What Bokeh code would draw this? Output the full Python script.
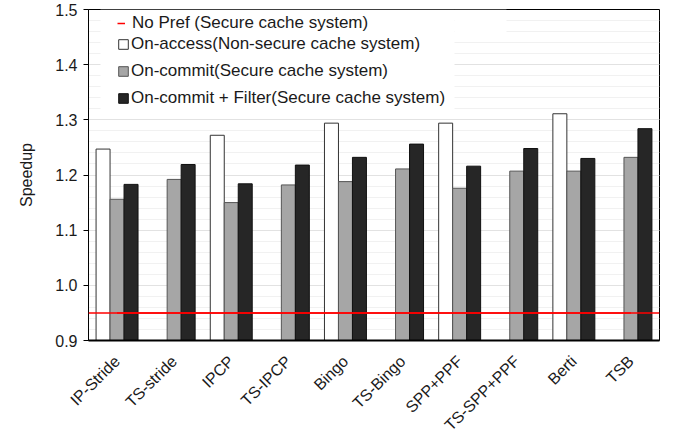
import math
from bokeh.plotting import figure
from bokeh.models import (ColumnDataSource, FactorRange, Range1d, Span, Legend, LegendItem,
                          SingleIntervalTicker, NumeralTickFormatter, BoxAnnotation)
from bokeh.transform import dodge
from bokeh.embed import file_html
from bokeh.resources import INLINE

nan = float("nan")
categories = ["IP-Stride", "TS-stride", "IPCP", "TS-IPCP", "Bingo", "TS-Bingo",
              "SPP+PPF", "TS-SPP+PPF", "Berti", "TSB"]
on_access = [1.247, nan, 1.272, nan, 1.294, nan, 1.294, nan, 1.311, nan]
on_commit = [1.156, 1.192, 1.150, 1.182, 1.188, 1.211, 1.176, 1.207, 1.207, 1.232]
on_commit_filter = [1.183, 1.219, 1.184, 1.218, 1.232, 1.256, 1.216, 1.248, 1.230, 1.284]
no_pref = 0.95
labels = ["No Pref (Secure cache system)",
          "On-access(Non-secure cache system)",
          "On-commit(Secure cache system)",
          "On-commit + Filter(Secure cache system)"]
y_min, y_max = 0.9, 1.5

FONT = "Liberation Sans"
TXT = "#1a1a1a"

src = ColumnDataSource(dict(cat=categories, a=on_access, c=on_commit, f=on_commit_filter))

p = figure(frame_width=571, frame_height=331, x_range=FactorRange(*categories),
           y_range=Range1d(y_min, y_max), output_backend="svg", toolbar_location=None,
           min_border_left=88, min_border_right=8, min_border_top=9, min_border_bottom=0)

# white cover behind legend (hides gridlines)
p.add_layout(BoxAnnotation(left=0.21, right=6.41, bottom=1.313, top=1.5,
                           fill_color="white", fill_alpha=1, line_color=None, level="underlay"))
p.add_layout(BoxAnnotation(left=6.41, right=7.32, bottom=1.452, top=1.5,
                           fill_color="white", fill_alpha=1, line_color=None, level="underlay"))

w = 0.245
ra = p.vbar(x=dodge("cat", -w, range=p.x_range), top="a", width=w, source=src,
            fill_color="white", line_color="#333333", line_width=1)
rc = p.vbar(x=dodge("cat", 0, range=p.x_range), top="c", width=w, source=src,
            fill_color="#a6a6a6", line_color="#555555", line_width=1)
rf = p.vbar(x=dodge("cat", w, range=p.x_range), top="f", width=w, source=src,
            fill_color="#262626", line_color="#111111", line_width=1)

rl = p.line(x=[categories[0], categories[-1]], y=[no_pref, no_pref],
            line_color="red", line_width=1.5)
p.add_layout(Span(location=no_pref, dimension="width", line_color="red", line_width=1.5))

common = dict(padding=0, margin=0, label_height=20, label_text_font=FONT,
              label_text_font_size="17px", label_text_color=TXT,
              background_fill_alpha=0, border_line_color=None)
leg1 = Legend(items=[LegendItem(label=labels[0], renderers=[rl])],
              location=(29, 307), spacing=0, glyph_width=8, glyph_height=10,
              label_standoff=7, **common)
leg2 = Legend(items=[LegendItem(label=labels[1], renderers=[ra]),
                     LegendItem(label=labels[2], renderers=[rc]),
                     LegendItem(label=labels[3], renderers=[rf])],
              location=(29, 232), spacing=7, glyph_width=12, glyph_height=12,
              label_standoff=2, **common)
p.add_layout(leg1)
p.add_layout(leg2)

# axes
p.yaxis.ticker = SingleIntervalTicker(interval=0.1, num_minor_ticks=5)
p.yaxis.formatter = NumeralTickFormatter(format="0.0")
p.yaxis.axis_label = "Speedup"
p.yaxis.axis_label_text_font = FONT
p.yaxis.axis_label_text_font_style = "normal"
p.yaxis.axis_label_text_font_size = "16px"
p.yaxis.axis_label_text_color = TXT
p.yaxis.axis_label_standoff = 17
p.yaxis.major_label_text_font = FONT
p.yaxis.major_label_text_font_size = "16px"
p.yaxis.major_label_text_color = TXT
p.yaxis.major_label_standoff = 6
p.yaxis.major_tick_out = 5
p.yaxis.major_tick_in = 0
p.yaxis.minor_tick_line_color = None
p.yaxis.axis_line_color = "black"

p.xaxis.major_label_orientation = math.pi / 4
p.xaxis.major_label_text_font = FONT
p.xaxis.major_label_text_font_size = "16px"
p.xaxis.major_label_text_color = TXT
p.xaxis.major_tick_line_color = None
p.xaxis.minor_tick_line_color = None
p.xaxis.axis_line_color = "black"
p.xaxis.axis_line_width = 2
p.xaxis.major_label_standoff = 12

p.xgrid.grid_line_color = None
p.ygrid.grid_line_color = "#e2e2e2"
p.ygrid.minor_grid_line_color = "#f1f1f1"

p.outline_line_color = "black"
p.outline_line_width = 1
p.background_fill_color = "white"

open("out.html", "w").write(file_html(p, INLINE))
